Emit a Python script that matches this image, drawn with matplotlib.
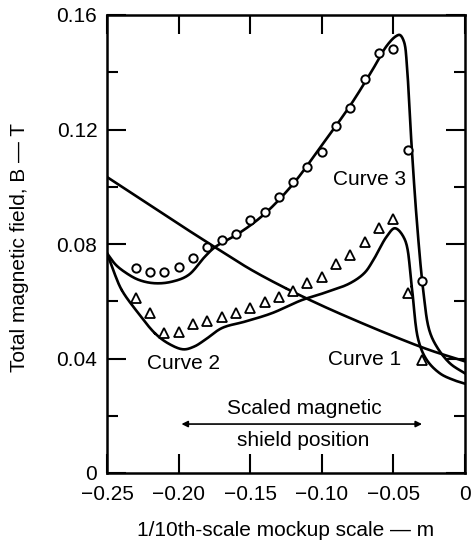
import numpy as np
import matplotlib
matplotlib.use('Agg')
import matplotlib.pyplot as plt
from matplotlib.ticker import FixedLocator

plt.rcParams['font.family'] = ['Liberation Sans', 'DejaVu Sans']

# curve 1 (solid, no points)
c1_x = [-0.25, -0.225, -0.20, -0.175, -0.15, -0.125, -0.10, -0.075, -0.05, -0.025, 0.0]
c1_y = [0.1034, 0.0952, 0.0870, 0.0790, 0.0712, 0.0645, 0.0585, 0.0530, 0.0478, 0.0430, 0.0390]

# curve 2 (solid line) and its triangle points
c2_x = [-0.25, -0.2450, -0.2397, -0.2281, -0.2165, -0.207, -0.1967, -0.189, -0.1816, -0.1699, -0.1536,
        -0.135, -0.114, -0.099, -0.0803, -0.070, -0.064, -0.0547, -0.0489, -0.0419,
        -0.0372, -0.0326, -0.0267, -0.0175, -0.008, 0.0]
c2_y = [0.0768, 0.0700, 0.0639, 0.0558, 0.0488, 0.0452, 0.0432, 0.0442, 0.0465, 0.0506, 0.0529,
        0.0558, 0.0604, 0.0628, 0.0663, 0.0700, 0.0744, 0.0826, 0.0855, 0.0814,
        0.0651, 0.0465, 0.0395, 0.0348, 0.0325, 0.0312]
tri_x = [-0.23, -0.22, -0.21, -0.20, -0.19, -0.18, -0.17, -0.16, -0.15, -0.14, -0.13,
         -0.12, -0.11, -0.10, -0.09, -0.08, -0.07, -0.06, -0.05, -0.04, -0.03]
tri_y = [0.0610, 0.0558, 0.0490, 0.0494, 0.0520, 0.0532, 0.0546, 0.0558, 0.0578, 0.0596, 0.0614,
         0.0635, 0.0664, 0.0684, 0.0730, 0.0762, 0.0808, 0.0855, 0.0886, 0.0628, 0.0395]

# curve 3 (solid line) and its circle points
c3_x = [-0.25, -0.244, -0.237, -0.228, -0.217, -0.205, -0.193, -0.1816, -0.1746, -0.158,
        -0.14, -0.12, -0.10, -0.08, -0.065, -0.055, -0.0485, -0.0454, -0.0425, -0.0405,
        -0.0384, -0.0337, -0.029, -0.0250, -0.0197, -0.0105, 0.0]
c3_y = [0.0768, 0.0728, 0.0700, 0.0675, 0.0663, 0.0668, 0.0692, 0.0756, 0.0789, 0.0837,
        0.0905, 0.1010, 0.1145, 0.1285, 0.1405, 0.1490, 0.1525, 0.1530, 0.1505, 0.1420,
        0.1233, 0.0884, 0.0630, 0.0500, 0.0441, 0.0383, 0.0348]
circ_x = [-0.23, -0.22, -0.21, -0.20, -0.19, -0.18, -0.17, -0.16, -0.15, -0.14, -0.13,
          -0.12, -0.11, -0.10, -0.09, -0.08, -0.07, -0.06, -0.05, -0.04, -0.03]
circ_y = [0.0715, 0.0703, 0.0703, 0.0721, 0.0752, 0.0789, 0.0813, 0.0836, 0.0883, 0.0913, 0.0965,
          0.1018, 0.1070, 0.1120, 0.1213, 0.1274, 0.1376, 0.1466, 0.1480, 0.1130, 0.0669]

x_ticks = [-0.25, -0.20, -0.15, -0.10, -0.05, 0.0]
x_labels = ['\u22120.25', '\u22120.20', '\u22120.15', '\u22120.10', '\u22120.05', '0']
y_ticks = [0, 0.04, 0.08, 0.12, 0.16]
y_labels = ['0', '0.04', '0.08', '0.12', '0.16']
y_minor = [0.02, 0.06, 0.10, 0.14]


# smooth drawing through the read points (centripetal catmull-rom, in pixel-ish space)
def smooth(xs, ys, n=20):
    p = np.column_stack([np.array(xs) / 0.25, np.array(ys) / 0.16])
    p = np.vstack([2 * p[0] - p[1], p, 2 * p[-1] - p[-2]])
    out = []
    for i in range(1, len(p) - 2):
        p0, p1, p2, p3 = p[i - 1], p[i], p[i + 1], p[i + 2]
        t0 = 0.0
        t1 = t0 + np.linalg.norm(p1 - p0) ** 0.5
        t2 = t1 + np.linalg.norm(p2 - p1) ** 0.5
        t3 = t2 + np.linalg.norm(p3 - p2) ** 0.5
        t = np.linspace(t1, t2, n)[:, None]
        a1 = (t1 - t) / (t1 - t0) * p0 + (t - t0) / (t1 - t0) * p1
        a2 = (t2 - t) / (t2 - t1) * p1 + (t - t1) / (t2 - t1) * p2
        a3 = (t3 - t) / (t3 - t2) * p2 + (t - t2) / (t3 - t2) * p3
        b1 = (t2 - t) / (t2 - t0) * a1 + (t - t0) / (t2 - t0) * a2
        b2 = (t3 - t) / (t3 - t1) * a2 + (t - t1) / (t3 - t1) * a3
        out.append((t2 - t) / (t2 - t1) * b1 + (t - t1) / (t2 - t1) * b2)
    out = np.vstack(out)
    return out[:, 0] * 0.25, out[:, 1] * 0.16


fig = plt.figure(figsize=(4.75, 5.41), dpi=100)
ax = fig.add_axes([107 / 475, 68 / 541, 358 / 475, 458 / 541])

lw = 1.9
for cx, cy in [(c1_x, c1_y), (c2_x, c2_y), (c3_x, c3_y)]:
    sx, sy = smooth(cx, cy)
    ax.plot(sx, sy, color='black', lw=lw, clip_on=True)
ax.plot(tri_x, tri_y, ls='none', marker='^', ms=6.5, mfc='white', mec='black', mew=1.3)
ax.plot(circ_x, circ_y, ls='none', marker='o', ms=6, mfc='white', mec='black', mew=1.4)

fs = 15
ax.text(-0.0922, 0.1024, 'Curve 3', fontsize=fs, va='center', ha='left')
ax.text(-0.222, 0.0384, 'Curve 2', fontsize=fs, va='center', ha='left')
ax.text(-0.0957, 0.0395, 'Curve 1', fontsize=fs, va='center', ha='left')
ax.text(-0.1124, 0.0225, 'Scaled magnetic', fontsize=fs, va='center', ha='center')
ax.text(-0.113, 0.0112, 'shield position', fontsize=fs, va='center', ha='center')
ax.annotate('', xy=(-0.198, 0.0171), xytext=(-0.030, 0.0171),
            arrowprops=dict(arrowstyle='<|-|>', color='black', lw=1.2,
                            mutation_scale=9, shrinkA=0, shrinkB=0))

ax.set_xlim(-0.25, 0.0)
ax.set_ylim(0, 0.16)
ax.set_xticks(x_ticks)
ax.set_xticklabels(x_labels)
ax.set_yticks(y_ticks)
ax.set_yticklabels(y_labels)
ax.yaxis.set_minor_locator(FixedLocator(y_minor))

for s in ax.spines.values():
    s.set_linewidth(1.8)

ax.tick_params(axis='both', which='major', direction='in', length=14, width=1.5,
               labelsize=fs, top=True, right=True)
ax.tick_params(axis='y', which='major', pad=7)
ax.tick_params(axis='x', which='major', pad=9)
ax.tick_params(axis='y', which='minor', direction='in', length=8, width=1.5, right=True)

fig.text(20 / 475, 0.543, 'Total magnetic field, B \u2014 T', rotation=90,
         fontsize=fs, ha='center', va='center')
fig.text(286 / 475, 11 / 541, '1/10th-scale mockup scale \u2014 m',
         fontsize=fs, ha='center', va='center')

fig.savefig('out.png', dpi=100)
